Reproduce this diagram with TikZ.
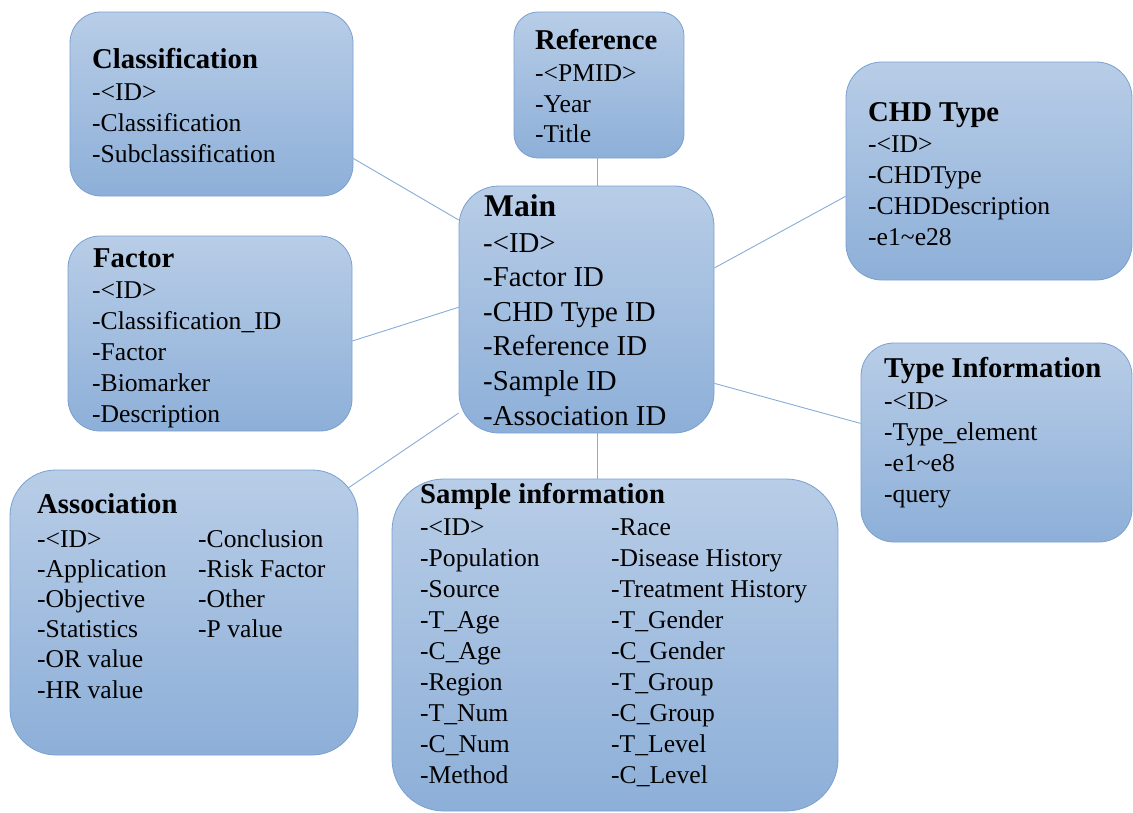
\documentclass[tikz,border=0pt]{standalone}
\usepackage{fontspec}
\setmainfont{Liberation Serif}
\definecolor{topc}{RGB}{184,205,231}
\definecolor{botc}{RGB}{141,175,216}
\definecolor{bordc}{RGB}{122,160,208}
\definecolor{linec}{RGB}{135,172,215}
\begin{document}
\begin{tikzpicture}[x=1pt,y=-1pt,
  box/.style={draw=bordc,line width=0.8pt,rounded corners=#1,top color=topc,bottom color=botc,inner sep=0pt},
  box/.default=32pt,
  ttl/.style={anchor=base west,inner sep=0pt,font=\fontsize{28.7}{30}\selectfont\bfseries},
  itm/.style={anchor=base west,inner sep=0pt,font=\fontsize{25.6}{30}\selectfont},
  ttlM/.style={anchor=base west,inner sep=0pt,font=\fontsize{31.6}{34}\selectfont\bfseries},
  itmM/.style={anchor=base west,inner sep=0pt,font=\fontsize{28.8}{34}\selectfont},
  link/.style={draw=linec,line width=0.9pt}]
\useasboundingbox (0,0) rectangle (1133,812);
% boxes
\node[box=31pt, minimum width=283pt, minimum height=184pt] (cls) at (211.5,104) {};
\node[box=24pt, minimum width=170pt, minimum height=146pt] (ref) at (599,85) {};
\node[box=36pt, minimum width=286pt, minimum height=218pt] (chd) at (989,171) {};
\node[box=40pt, minimum width=255pt, minimum height=247pt] (main) at (586.5,309.5) {};
\node[box=32pt, minimum width=284pt, minimum height=195pt] (fac) at (210,333.5) {};
\node[box=33pt, minimum width=271pt, minimum height=199pt] (typ) at (996.5,442.5) {};
\node[box=46pt, minimum width=348pt, minimum height=285pt] (asc) at (184,612.5) {};
\node[box=52pt, minimum width=446pt, minimum height=332pt] (smp) at (615,645) {};
% connectors
\draw[link] (cls.-21.6) -- (main.145.5);
\draw[link] (main.85.1) -- (main.85.1 |- ref.south);
\draw[link] (chd.-170.1) -- (main.18);
\draw[link] (fac.-3.4) -- (main.179.8);
\draw[link] (typ.172.7) -- (main.-30.6);
\draw[link, shorten <=-12pt] (asc.37.6) -- (main.-141.6);
\draw[link] (main.-85.1) -- (main.-85.1 |- smp.north);
% texts
\node[ttl] (clsT) at (92,68) {Classification};
\foreach \t [count=\i from 0] in {-<ID>,-Classification,-Subclassification}
  \node[itm] (cls\i) at (92,100+31*\i) {\t};
\node[ttl] (refT) at (535,49) {Reference};
\foreach \t [count=\i from 0] in {-<PMID>,-Year,-Title}
  \node[itm] (ref\i) at (535,81.5+30.5*\i) {\t};
\node[ttl] (chdT) at (868,121) {CHD Type};
\foreach \t [count=\i from 0] in {-<ID>,-CHDType,-CHDDescription,-e1\textasciitilde e28}
  \node[itm] (chd\i) at (868,152+31*\i) {\t};
\node[ttlM] (mainT) at (484,216) {Main};
\foreach \t [count=\i from 0] in {-<ID>,-Factor ID,-CHD Type ID,-Reference ID,-Sample ID,-Association ID}
  \node[itmM] (main\i) at (483,252+34.6*\i) {\t};
\node[ttl] (facT) at (93,267) {Factor};
\foreach \t [count=\i from 0] in {-<ID>,-Classification\_ID,-Factor,-Biomarker,-Description}
  \node[itm] (fac\i) at (92,298+31*\i) {\t};
\node[ttl] (typT) at (884,377) {Type Information};
\foreach \t [count=\i from 0] in {-<ID>,-Type\_element,-e1\textasciitilde e8,-query}
  \node[itm] (typ\i) at (884,409+31*\i) {\t};
\node[ttl] (ascT) at (37,513) {Association};
\foreach \t [count=\i from 0] in {-<ID>,-Application,-Objective,-Statistics,-OR value,-HR value}
  \node[itm] (ascA\i) at (37,547+30.2*\i) {\t};
\foreach \t [count=\i from 0] in {-Conclusion,-Risk Factor,-Other,-P value}
  \node[itm] (ascB\i) at (198,547+30.2*\i) {\t};
\node[ttl] (smpT) at (420,503) {Sample information};
\foreach \t [count=\i from 0] in {-<ID>,-Population,-Source,-T\_Age,-C\_Age,-Region,-T\_Num,-C\_Num,-Method}
  \node[itm] (smpA\i) at (420,535+31*\i) {\t};
\foreach \t [count=\i from 0] in {-Race,-Disease History,-Treatment History,-T\_Gender,-C\_Gender,-T\_Group,-C\_Group,-T\_Level,-C\_Level}
  \node[itm] (smpB\i) at (611,535+31*\i) {\t};
\end{tikzpicture}
\end{document}
